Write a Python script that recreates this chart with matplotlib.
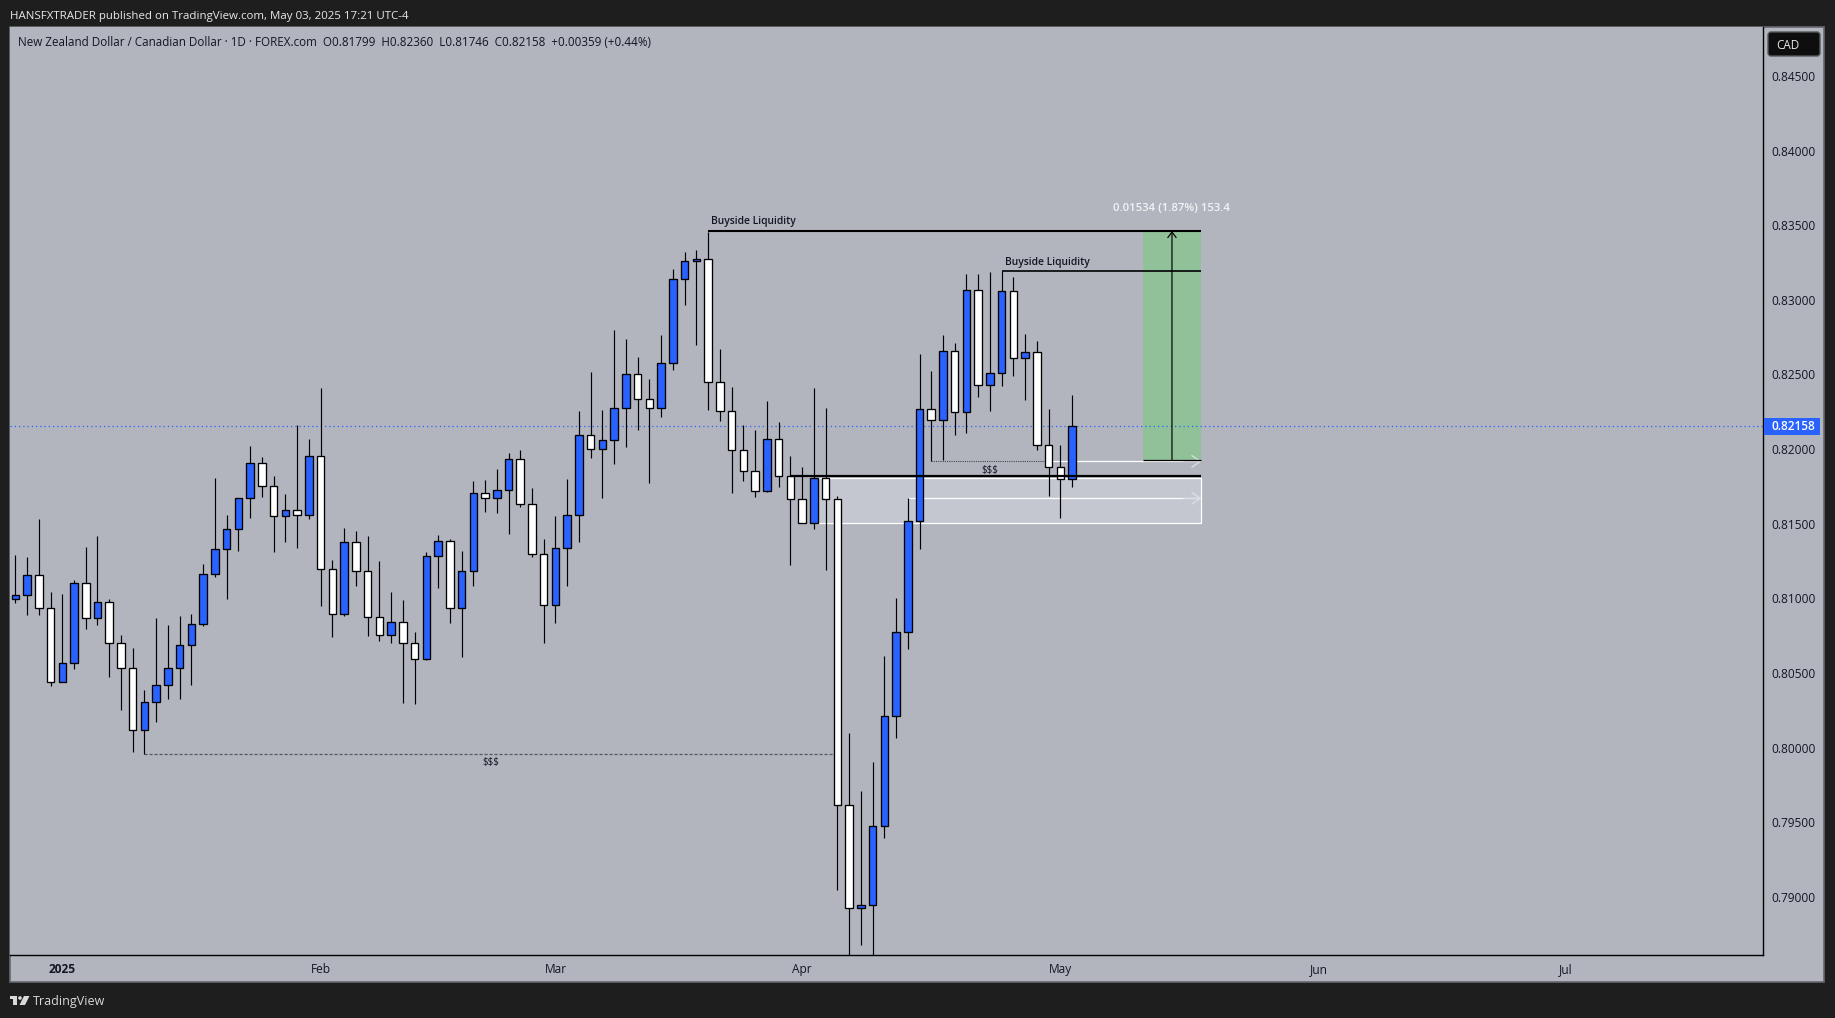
import matplotlib
matplotlib.use("Agg")
import matplotlib.pyplot as plt
from matplotlib.patches import Rectangle, Polygon, Circle, FancyBboxPatch
from matplotlib.transforms import Affine2D

opens = [.80998,.81020,.81154,.80933,.80438,.80565,.81101,.80866,.80974,.80699,
         .80531,.80116,.80304,.80417,.80531,.80685,.80826,.81161,.81329,.81463,
         .81670,.81905,.81751,.81550,.81590,.81556,.81952,.81195,.80893,.81375,
         .81181,.80873,.80752,.80840,.80699,.80593,.81283,.81383,.80934,.81181,
         .81704,.81670,.81724,.81932,.81630,.81296,.80954,.81335,.81557,.82092,
         .81999,.82059,.82273,.82501,.82334,.82273,.82575,.83138,.83258,.83276,
         .82448,.82253,.81992,.81851,.81717,.82066,.81818,.81664,.81503,.81804,
         .81664,.79615,.78924,.78945,.79474,.80211,.80773,.81517,.82267,.82193,
         .82655,.82247,.83064,.82427,.82508,.83057,.82608,.82648,.82025,.81878,
         .81799]
highs = [.81291,.81277,.81530,.81041,.81027,.81121,.81342,.81416,.80994,.80752,
         .80665,.80384,.80866,.80819,.80880,.80893,.81228,.81804,.81559,.81670,
         .82021,.81945,.81818,.81697,.82159,.82066,.82407,.81255,.81469,.81449,
         .81416,.81248,.81041,.80987,.80773,.81309,.81426,.81396,.81316,.81784,
         .81791,.81865,.81972,.81992,.81737,.81396,.81550,.81798,.82253,.82514,
         .82260,.82796,.82736,.82615,.82468,.82762,.83205,.83318,.83332,.83457,
         .82669,.82414,.82159,.82126,.82320,.82180,.81952,.81878,.82407,.82273,
         .81687,.80097,.79708,.79903,.80613,.81001,.81671,.82637,.82521,.82762,
         .82709,.83171,.83171,.83184,.83193,.83151,.82769,.82722,.82267,.82025,
         .82360]
lows = [.80969,.80889,.80889,.80415,.80438,.80529,.80797,.80824,.80476,.80254,
        .79973,.79955,.80174,.80328,.80328,.80422,.80817,.81145,.80998,.81317,
        .81541,.81681,.81311,.81378,.81338,.81532,.80949,.80744,.80884,.81085,
        .80750,.80717,.80703,.80301,.80295,.80588,.81073,.80832,.80610,.81085,
        .81581,.81574,.81434,.81610,.81280,.80704,.80832,.81085,.81380,.81943,
        .81675,.81903,.82017,.82130,.81775,.82217,.82532,.82968,.82700,.82264,
        .82191,.81708,.81789,.81682,.81711,.81749,.81226,.81503,.81467,.81193,
        .79047,.78550,.78681,.78550,.79396,.80068,.80664,.81334,.81918,.81927,
        .82097,.82110,.82351,.82258,.82425,.82492,.82331,.81996,.81688,.81541,
        .81746]
closes = [.81020,.81154,.80933,.80438,.80565,.81101,.80866,.80974,.80699,.80531,
          .80116,.80304,.80417,.80531,.80685,.80826,.81161,.81329,.81463,.81670,
          .81905,.81751,.81550,.81590,.81556,.81952,.81195,.80893,.81375,.81181,
          .80873,.80752,.80840,.80699,.80592,.81283,.81383,.80934,.81182,.81704,
          .81670,.81724,.81932,.81630,.81295,.80954,.81336,.81557,.82092,.81999,
          .82059,.82273,.82501,.82334,.82273,.82575,.83138,.83258,.83276,.82448,
          .82253,.81992,.81851,.81717,.82066,.81818,.81664,.81503,.81804,.81664,
          .79615,.78924,.78945,.79474,.80211,.80773,.81517,.82267,.82193,.82655,
          .82247,.83064,.82427,.82508,.83057,.82608,.82648,.82025,.81878,.81798,
          .82158]

price_ticks = [.845,.84,.835,.83,.825,.82,.815,.81,.805,.80,.795,.79]
time_tick_pos = [4, 26, 46, 67, 89, 111, 132]
time_tick_labels = ["2025", "Feb", "Mar", "Apr", "May", "Jun", "Jul"]
last_price = 0.82158

BG = "#1e1e1e"; PANE = "#b2b5be"; BLUE = "#2962ff"
FONT = ["Open Sans", "DejaVu Sans"]
W, H = 1835, 1018
plt.rcParams["font.family"] = FONT

fig = plt.figure(figsize=(W / 100, H / 100), dpi=100, facecolor=BG)
pix = Affine2D().scale(1 / W, -1 / H).translate(0, 1) + fig.transFigure

fig.add_artist(Rectangle((10, 27), 1814, 955.5, transform=pix, fc=PANE, ec="#66686e", lw=1.2, zorder=-5))

L, R, T, B = 10, 1763, 27, 955
ax = fig.add_axes([L / W, 1 - B / H, (R - L) / W, (B - T) / H], facecolor=PANE)
ax.set_xlim(-0.451, 148.83)
ax.set_ylim(0.78611, 0.84828)
for s in ("top", "left"):
    ax.spines[s].set_visible(False)
for s in ("right", "bottom"):
    ax.spines[s].set_linewidth(1.0)
    ax.spines[s].set_color("black")

ax.yaxis.tick_right()
ax.set_yticks(price_ticks)
ax.set_yticklabels([f"{p:.5f}" for p in price_ticks], fontsize=8.6, color="#131722")
ax.tick_params(axis="y", length=0, pad=6.2)
ax.set_xticks(time_tick_pos)
ax.set_xticklabels(time_tick_labels, fontsize=8.6, color="#131722")
ax.tick_params(axis="x", length=0, pad=6.0)
ax.get_xticklabels()[0].set_fontweight("bold")

# zone and white levels sit behind the candles
ax.add_patch(Rectangle((68, .81503), 33, .00301, fc="#c4c6d0", ec="white", lw=0.9, zorder=1))
ax.hlines(.81670, 76, 100.9, color="white", lw=0.9, zorder=1.1)
ax.hlines(.81918, 88, 100.9, color="white", lw=0.9, zorder=1.1)
ax.add_patch(Rectangle((96, .81925), 5, .01536, fc="#90c198", ec="none", zorder=1))
ax.hlines(.81918, 78, 88, color="#44474f", lw=0.8, linestyles=(0, (1, 1)), zorder=1.1)
ax.hlines(.79955, 11, 70, color="#55575d", lw=0.9, linestyles=(0, (2.5, 1.5)), zorder=1.1)
ax.axhline(last_price, color=BLUE, lw=0.9, linestyle=(0, (1, 2.4)), zorder=1.2)
for lvl in (.81670, .81918):
    ax.annotate("", xy=(101, lvl), xytext=(99.5, lvl),
                arrowprops=dict(arrowstyle="->,head_length=0.6,head_width=0.42",
                                color="#dfe0e6", lw=0.9, shrinkA=0, shrinkB=0), zorder=1.3)

# candles
xs = list(range(len(opens)))
ax.vlines(xs, lows, highs, color="black", lw=0.85, zorder=2)
for x, o, c in zip(xs, opens, closes):
    ax.bar(x, abs(c - o), bottom=min(o, c), width=0.64,
           color=BLUE if c >= o else "white", edgecolor="black", lw=0.95, zorder=3)

# drawings above the candles
ax.hlines(.83461, 59, 101, color="black", lw=1.5, zorder=4)
ax.hlines(.83193, 84, 101, color="black", lw=1.2, zorder=4)
ax.hlines(.81820, 66, 101, color="black", lw=1.6, zorder=4)
ax.hlines(.81925, 96, 101, color="black", lw=0.9, zorder=4)
ax.annotate("", xy=(98.5, .83461), xytext=(98.5, .81925),
            arrowprops=dict(arrowstyle="->,head_length=0.4,head_width=0.3",
                            color="black", lw=0.85, shrinkA=0, shrinkB=0), zorder=4)

for xt, yt in ((59.24, .83522), (84.27, .83247)):
    ax.text(xt, yt, "Buyside Liquidity", fontsize=7.35, fontweight="semibold",
            color="#131722", va="center", ha="left", zorder=5)
ax.text(98.5, .83609, "0.01534 (1.87%) 153.4", fontsize=8.2, fontweight="semibold",
        color="#f2f3f5", va="center", ha="center", zorder=5)
ax.text(83, .81860, "$$$", fontsize=7.0, color="#131722", va="center", ha="center", zorder=5, parse_math=False)
ax.text(40.5, .79900, "$$$", fontsize=7.0, color="#131722", va="center", ha="center", zorder=5, parse_math=False)

# header / chrome
fig.text(10, 16.5, "HANSFXTRADER published on TradingView.com, May 03, 2025 17:21 UTC-4",
         transform=pix, fontsize=8.25, color="#e8e8e8", va="center", ha="left")
fig.text(18, 42.5,
         "New Zealand Dollar / Canadian Dollar · 1D · FOREX.com  O0.81799  H0.82360  L0.81746  C0.82158  +0.00359 (+0.44%)",
         transform=pix, fontsize=8.37, color="#131722", va="center", ha="left")

fig.add_artist(FancyBboxPatch((1768, 32), 52, 24, boxstyle="round,pad=0,rounding_size=3",
                              transform=pix, fc="#0e0e0e", ec="#55575c", lw=1.0))
fig.text(1776, 45.5, "CAD", transform=pix, fontsize=8.4, color="#e8e8e8", va="center", ha="left")

fig.add_artist(Rectangle((1764, 418), 56, 16.5, transform=pix, fc=BLUE, ec="none"))
fig.text(1793, 426.5, f"{last_price:.5f}", transform=pix, fontsize=8.6, fontweight="semibold",
         color="white", va="center", ha="center")

# TradingView logo
logo = "#d9d9d9"
fig.add_artist(Polygon([(10, 996), (17, 996), (17, 1005), (13, 1005), (13, 999.5), (10, 999.5)],
                       transform=pix, fc=logo, ec="none"))
fig.add_artist(Circle((20, 998), 1.8, transform=pix, fc=logo, ec="none"))
fig.add_artist(Polygon([(24, 996), (29.5, 996), (25, 1005), (19.5, 1005)], transform=pix, fc=logo, ec="none"))
fig.text(33, 1001.5, "TradingView", transform=pix, fontsize=9.0, color="#d9d9d9", va="center", ha="left")

fig.savefig("out.png", dpi=100, facecolor=BG)
